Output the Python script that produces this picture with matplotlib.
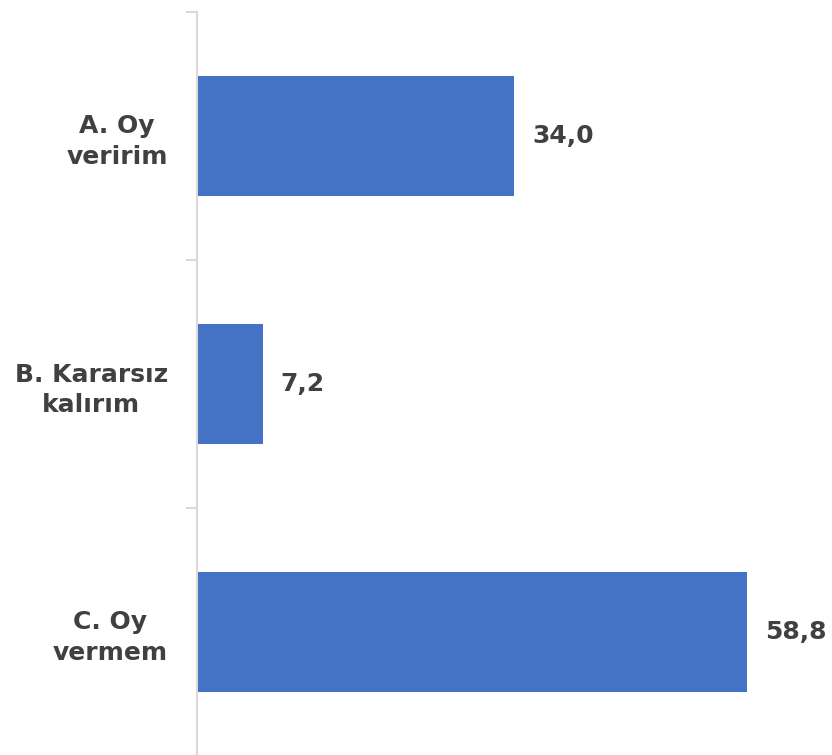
import matplotlib
matplotlib.use("Agg")
import matplotlib.pyplot as plt
from matplotlib.ticker import FixedLocator

categories = ["A. Oy\nveririm", "B. Kararsız\nkalırım", "C. Oy\nvermem"]
values = [34.0, 7.2, 58.8]
value_labels = ["34,0", "7,2", "58,8"]

bar_color = "#4472C4"
text_color = "#404040"
axis_color = "#D9D9D9"
font = "DejaVu Sans"

fig = plt.figure(figsize=(8.32, 7.55), dpi=100)
ax = fig.add_axes([197/832, -1/755, (832-197)/832, 744/755])

y = list(range(len(categories)))
ax.barh(y, values, height=0.48, color=bar_color, left=0)
ax.set_ylim(len(categories) - 0.5, -0.5)
ax.set_xlim(0.2, 67.9)

for yi, v, lab in zip(y, values, value_labels):
    ax.annotate(lab, xy=(v, yi), xytext=(13, 0), textcoords="offset points",
                ha="left", va="center", fontsize=18, fontweight="bold",
                color=text_color, family=font)

ax.set_yticks(y)
ax.set_yticklabels(categories, fontsize=18, fontweight="bold", color=text_color,
                   family=font, ha="right", multialignment="center", linespacing=1.35)
ax.yaxis.set_minor_locator(FixedLocator([-0.5, 0.5, 1.5, 2.5]))
ax.tick_params(axis="y", which="major", length=0, pad=21)
ax.tick_params(axis="y", which="minor", length=8, width=1.5, color=axis_color)
ax.set_xticks([])

for s in ["top", "right", "bottom"]:
    ax.spines[s].set_visible(False)
ax.spines["left"].set_color(axis_color)
ax.spines["left"].set_linewidth(1.5)
ax.patch.set_alpha(0)

fig.savefig("out.png", dpi=100)
